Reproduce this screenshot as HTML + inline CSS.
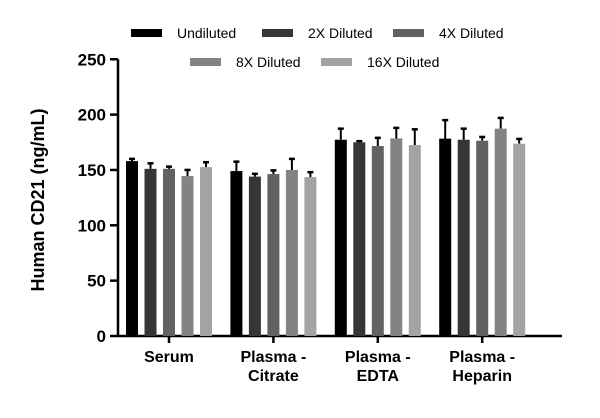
<!DOCTYPE html>
<html><head><meta charset="utf-8"><style>body{margin:0;background:#fff}svg{display:block;font-family:"Liberation Sans",sans-serif}</style></head>
<body>
<svg id="c" width="600" height="418"></svg>
<script>
const categories=[["Serum"],["Plasma -","Citrate"],["Plasma -","EDTA"],["Plasma -","Heparin"]];
const seriesNames=["Undiluted","2X Diluted","4X Diluted","8X Diluted","16X Diluted"];
const undiluted=[158,149,177.3,178.3];
const diluted2x=[151,144,175,177.3];
const diluted4x=[151,146.3,171.6,176.4];
const diluted8x=[144.5,150,178.5,187.3];
const diluted16x=[152.6,143.6,172.5,173.7];
const err1=[2,8.5,10,16.7];
const err2=[5,2.5,1,10];
const err3=[2,3.3,7.4,3.4];
const err4=[5.5,10,9.5,9.7];
const err5=[4.4,4.4,14.2,4.3];
const yTicks=[0,50,100,150,200,250];
const series=[undiluted,diluted2x,diluted4x,diluted8x,diluted16x];
const errs=[err1,err2,err3,err4,err5];
const colors=["#000","#363636","#626262","#838383","#a3a3a3"];
const NS="http://www.w3.org/2000/svg",svg=document.getElementById('c');
function mk(t,a,p){const e=document.createElementNS(NS,t);for(const k in a)e.setAttribute(k,a[k]);(p||svg).appendChild(e);return e;}
const y0=336,ppu=1.107;
const y=v=>y0-v*ppu;
const gx=i=>169+i*104.4;
const bx=(i,s)=>gx(i)+(s-2)*18.5-6;
// axes
let ax=mk('line',{x1:118,y1:y(0),x2:118,y2:y(250),stroke:'#000','stroke-width':2.5});

yTicks.forEach(t=>{
 const l=mk('line',{x1:110,x2:118,y1:y(t),y2:y(t),stroke:'#000','stroke-width':2.5});
 
 const tx=mk('text',{x:106,y:y(t)+6,'text-anchor':'end','font-size':17,'font-weight':'bold'});tx.textContent=t;
 
});
let xa=mk('line',{x1:117,y1:y0,x2:562,y2:y0,stroke:'#000','stroke-width':2.5});

categories.forEach((c,i)=>{
 const l=mk('line',{x1:gx(i),x2:gx(i),y1:y0,y2:y0+7,stroke:'#000','stroke-width':2.5});
 
 c.forEach((s,j)=>{const t=mk('text',{x:gx(i),y:362+j*19,'text-anchor':'middle','font-size':16,'font-weight':'bold'});t.textContent=s;
 });
});
series.forEach((arr,s)=>arr.forEach((v,i)=>{
 const x=bx(i,s),top=y(v),et=y(v+errs[s][i]);
 const el=mk('line',{x1:x+6,x2:x+6,y1:top,y2:et,stroke:'#000','stroke-width':2});
 
 const ec=mk('line',{x1:x+3,x2:x+9,y1:et,y2:et,stroke:'#000','stroke-width':2.5});
 
 const r=mk('rect',{x:x,y:top,width:12,height:y0-top,fill:colors[s]});
 
}));
const yt=mk('text',{x:0,y:0,transform:'translate(44,200) rotate(-90)','text-anchor':'middle','font-size':18,'font-weight':'bold'});
yt.textContent='Human CD21 (ng/mL)';
const leg=[[131,33],[262,33],[393,33],[190,62],[321,62]];
seriesNames.forEach((n,s)=>{
 const [lx,ly]=leg[s];
 const r=mk('rect',{x:lx,y:ly-4,width:31,height:8,fill:colors[s]});
 
 const t=mk('text',{x:lx+46,y:ly+5,'font-size':14});t.textContent=n;
 
});
</script>
</body></html>
